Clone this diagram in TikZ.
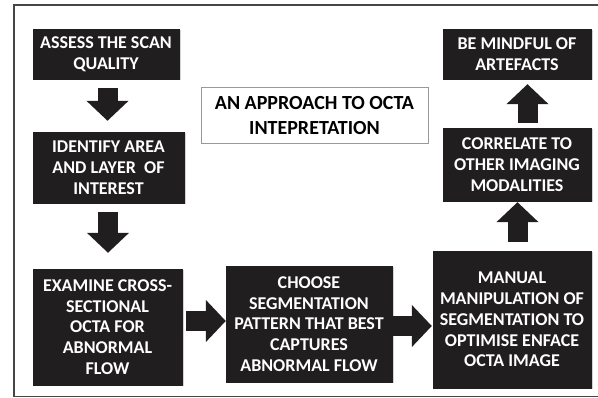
\documentclass[tikz,border=0pt]{standalone}
\usepackage{fontspec}
\setmainfont{Carlito}
\usetikzlibrary{calc, positioning, arrows.meta, shadows}
\definecolor{boxdark}{RGB}{33,30,31}
\definecolor{framegray}{RGB}{70,70,70}
\tikzset{
  font=\fontsize{18}{20.8}\selectfont\bfseries,
  % Black step box
  stepbox/.style={draw=boxdark, fill=boxdark, text=white, align=center,
    inner sep=0pt, drop shadow={opacity=0.35, shadow xshift=1.5pt,
      shadow yshift=-1.5pt}},
  % Title box
  titlebox/.style={draw=gray!80, line width=1pt, fill=white, align=center,
    inner sep=0pt, font=\fontsize{20}{25}\selectfont\bfseries},
  % Thick block arrows
  blockarrow/.style={draw=boxdark, line width=20pt,
    -{Triangle[length=20pt, width=41pt]}},
}
\begin{document}
\begin{tikzpicture}[x=1pt, y=-1pt]
  \useasboundingbox (0,0) rectangle (598,398);
  \draw[framegray, line width=1.2pt] (602,5) -- (14,5) -- (14,396.5) -- (602,396.5);

  \node[stepbox, minimum width=146pt, minimum height=50pt] (assess) at (106,54)
    {ASSESS THE SCAN\\QUALITY};
  \node[stepbox, minimum width=151pt, minimum height=71pt] (identify) at (108.5,167.5)
    {IDENTIFY AREA\\AND LAYER~ OF\\INTEREST};
  \node[stepbox, minimum width=149pt, minimum height=116pt] (examine) at (107.5,327)
    {EXAMINE CROSS-\\SECTIONAL\\OCTA FOR\\ABNORMAL\\FLOW};
  \node[stepbox, minimum width=166pt, minimum height=116pt] (choose) at (309,324)
    {CHOOSE\\SEGMENTATION\\PATTERN THAT BEST\\CAPTURES\\ABNORMAL FLOW};
  \node[stepbox, minimum width=158pt, minimum height=137pt] (manual) at (512,319.5)
    {MANUAL\\MANIPULATION OF\\SEGMENTATION TO\\OPTIMISE ENFACE\\OCTA IMAGE};
  \node[stepbox, minimum width=148pt, minimum height=73pt] (correlate) at (517,164.5)
    {CORRELATE TO\\OTHER IMAGING\\MODALITIES};
  \node[stepbox, minimum width=148pt, minimum height=50pt] (mindful) at (517,54)
    {BE MINDFUL OF\\ARTEFACTS};

  \node[titlebox, minimum width=227pt, minimum height=56pt] (title) at (314.5,116)
    {AN APPROACH TO OCTA\\INTEPRETATION};

  \draw[blockarrow, shorten <=9pt, shorten >=11pt]
    ([xshift=1.5pt]assess.south) -- ([xshift=1.5pt]assess.south |- identify.north);
  \draw[blockarrow, shorten <=9pt, shorten >=16pt]
    ([xshift=-0.5pt]identify.south) -- ([xshift=-0.5pt]identify.south |- examine.north);
  \draw[blockarrow, shorten <=4pt, shorten >=0pt]
    ([yshift=6pt]examine.east) -- ([yshift=6pt]examine.east -| choose.west);
  \draw[blockarrow, shorten <=1pt, shorten >=1pt]
    ([yshift=-2pt]choose.east) -- ([yshift=-2pt]choose.east -| manual.west);
  \draw[blockarrow, shorten <=9pt, shorten >=1pt]
    ([xshift=5.5pt]manual.north) -- ([xshift=5.5pt]manual.north |- correlate.south);
  \draw[blockarrow, shorten <=5pt, shorten >=5pt]
    ([xshift=10.5pt]correlate.north) -- ([xshift=10.5pt]correlate.north |- mindful.south);
\end{tikzpicture}
\end{document}
